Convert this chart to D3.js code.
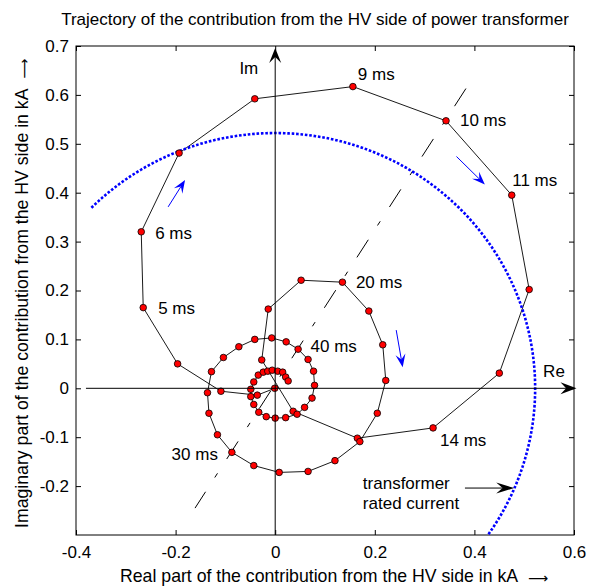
<!DOCTYPE html>
<html><head><meta charset="utf-8">
<script src="https://cdn.jsdelivr.net/npm/d3@7"></script>
<style>
html,body{margin:0;padding:0;background:#fff;}
text{font-family:"Liberation Sans",Arial,Helvetica,sans-serif;fill:#000;}
</style></head>
<body><svg id="c" width="593" height="588"></svg>
<script>
// ---------- data ----------
// trajectory samples, 1 ms ... 62 ms
const reVals = [-0.001,-0.036,-0.109,-0.196,-0.265,-0.269,-0.193,-0.041,0.156,0.343,
  0.475,0.510,0.450,0.317,0.165,0.036,-0.027,-0.014,0.052,0.135,
  0.188,0.216,0.222,0.205,0.170,0.120,0.066,0.008,-0.043,-0.087,
  -0.116,-0.133,-0.136,-0.128,-0.104,-0.073,-0.041,-0.007,0.022,0.046,
  0.066,0.077,0.079,0.074,0.059,0.044,0.021,0.000,-0.018,-0.033,
  -0.043,-0.049,-0.049,-0.043,-0.034,-0.024,-0.015,-0.006,0.005,0.015,
  0.021,0.026];
const imVals = [0.000,-0.014,-0.006,0.050,0.165,0.320,0.481,0.592,0.617,0.547,
  0.395,0.202,0.031,-0.081,-0.102,-0.047,0.058,0.162,0.221,0.217,
  0.158,0.089,0.016,-0.051,-0.109,-0.148,-0.170,-0.172,-0.158,-0.131,
  -0.095,-0.051,-0.009,0.034,0.063,0.085,0.100,0.103,0.095,0.080,
  0.059,0.035,0.006,-0.020,-0.039,-0.053,-0.060,-0.061,-0.058,-0.049,
  -0.033,-0.017,-0.002,0.013,0.027,0.033,0.035,0.037,0.035,0.033,
  0.023,0.015];
const ratedCurrent = 0.522;               // radius of the rated-current circle
const ratedArcDeg = [135, -40];           // visible arc (clipped by axes)
const xTicks = [-0.4,-0.2,0,0.2,0.4,0.6];
const yTicks = [-0.2,-0.1,0,0.1,0.2,0.3,0.4,0.5,0.6,0.7];
const xDomain = [-0.4,0.6];
const yDomain = [-0.3,0.7];
const timeLabels = ["5 ms","6 ms","9 ms","10 ms","11 ms","14 ms","20 ms","30 ms","40 ms"];
const timeLabelRe = [-0.235,-0.241,0.166,0.371,0.476,0.331,0.162,-0.208,0.071];
const timeLabelIm = [0.152,0.306,0.631,0.537,0.414,-0.118,0.205,-0.146,0.074];
const phaseLine = [[-0.161,-0.245],[0.383,0.613]];   // dash-dot direction line
const blueArrows = [[[-0.215,0.371],[-0.181,0.426]],
                    [[0.364,0.474],[0.421,0.417]],
                    [[0.243,0.119],[0.256,0.043]]];
const ratedArrow = [[0.381,-0.204],[0.480,-0.204]];
const ratedText = ["transformer","rated current"];
const ratedTextPos = [[0.176,-0.206],[0.176,-0.247]];
const reAxis = [[-0.38,0],[0.605,0]];
const imAxis = [[0,-0.3],[0,0.696]];

// ---------- layout ----------
const L=76,R=574,T=46,B=535;
const svg=d3.select("#c");
const x=d3.scaleLinear(xDomain,[L,R]);
const y=d3.scaleLinear(yDomain,[B,T]);
const FS=17;

svg.append("defs").append("clipPath").attr("id","clip")
  .append("rect").attr("x",L).attr("y",T).attr("width",R-L).attr("height",B-T);

// title
svg.append("text").attr("x",315).attr("y",25).attr("text-anchor","middle")
  .style("font-size",FS+"px").text("Trajectory of the contribution from the HV side of power transformer");

// axes with inward ticks on all sides
const fmt=d=>d===0?"0":String(d);
const gB=svg.append("g").attr("transform",`translate(0,${B})`)
  .call(d3.axisBottom(x).tickValues(xTicks).tickFormat(fmt).tickSizeInner(-5).tickSizeOuter(0).tickPadding(11));
const gT=svg.append("g").attr("transform",`translate(0,${T})`)
  .call(d3.axisTop(x).tickValues(xTicks).tickFormat("").tickSizeInner(-5).tickSizeOuter(0));
const gL=svg.append("g").attr("transform",`translate(${L},0)`)
  .call(d3.axisLeft(y).tickValues(yTicks).tickFormat(fmt).tickSizeInner(-5).tickSizeOuter(0).tickPadding(7));
const gR=svg.append("g").attr("transform",`translate(${R},0)`)
  .call(d3.axisRight(y).tickValues(yTicks).tickFormat("").tickSizeInner(-5).tickSizeOuter(0));
[gB,gT,gL,gR].forEach(g=>{
  g.select(".domain").remove();
  g.selectAll("line").attr("stroke","#000");
  g.selectAll("text").style("font-size",FS+"px").attr("font-family",null);
});
svg.append("rect").attr("x",L).attr("y",T).attr("width",R-L).attr("height",B-T)
  .attr("fill","none").attr("stroke","#000").attr("stroke-width",1);

// axis labels (text + long thin arrow)
function axisLabel(sel,txt){
  sel.style("font-size","17.7px");
  sel.append("tspan").text(txt+"\u00a0\u00a0");
  sel.append("tspan").attr("dy",1).style("font-family","'DejaVu Sans'").style("font-size","14px").text("\u27F6");
}
axisLabel(svg.append("text").attr("x",120).attr("y",582),
  "Real part of the contribution from the HV side in kA");
axisLabel(svg.append("text").attr("transform","translate(28,528) rotate(-90)"),
  "Imaginary part of the contribution from the HV side in kA");

const plot=svg.append("g").attr("clip-path","url(#clip)");

// arrow head helper
function head(g,from,to,Lh,W,notch,color){
  const x1=x(from[0]),y1=y(from[1]),x2=x(to[0]),y2=y(to[1]);
  const a=Math.atan2(y2-y1,x2-x1),c=Math.cos(a),s=Math.sin(a);
  const P=(u,v)=>[x2+u*c-v*s,y2+u*s+v*c];
  const pts=[P(0,0),P(-Lh,W/2),P(-Lh*notch,0),P(-Lh,-W/2)];
  g.append("path").attr("d","M"+pts.map(p=>p.join(",")).join("L")+"Z").attr("fill",color).attr("stroke","none");
  return P(-Lh*notch,0);
}
function arrow(g,from,to,Lh,W,notch,color,width){
  const end=head(g,from,to,Lh,W,notch,color);
  g.append("line").attr("x1",x(from[0])).attr("y1",y(from[1])).attr("x2",end[0]).attr("y2",end[1])
    .attr("stroke",color).attr("stroke-width",width);
}

// Re / Im axes
const axG=svg.append("g");
arrow(axG,imAxis[0],imAxis[1],15,12,0.6,"#000",1);
arrow(axG,reAxis[0],reAxis[1],16,12,0.65,"#000",1);
svg.append("text").attr("x",x(-0.034)).attr("y",y(0.643)).attr("text-anchor","end").style("font-size",FS+"px").text("Im");
svg.append("text").attr("x",x(0.538)).attr("y",y(0.024)).style("font-size",FS+"px").text("Re");

// dash-dot phase line
plot.append("line").attr("x1",x(phaseLine[1][0])).attr("y1",y(phaseLine[1][1]))
  .attr("x2",x(phaseLine[0][0])).attr("y2",y(phaseLine[0][1]))
  .attr("stroke","#000").attr("stroke-width",1).attr("stroke-dasharray","21,17,5,17");

// trajectory
const pts=reVals.map((r,i)=>[r,imVals[i]]);
plot.append("path").datum(pts).attr("fill","none").attr("stroke","#000").attr("stroke-width",0.9)
  .attr("d",d3.line().x(d=>x(d[0])).y(d=>y(d[1])));

// rated current circle (dotted)
const arcPts=d3.range(ratedArcDeg[0],ratedArcDeg[1]-0.5,-1).map(a=>[ratedCurrent*Math.cos(a*Math.PI/180),ratedCurrent*Math.sin(a*Math.PI/180)]);
plot.append("path").datum(arcPts).attr("fill","none").attr("stroke","#0000ff").attr("stroke-width",2.6)
  .attr("stroke-dasharray","2.6,1.8").attr("d",d3.line().x(d=>x(d[0])).y(d=>y(d[1])));

// markers
plot.selectAll("circle.m").data(pts).join("circle").attr("class","m")
  .attr("cx",d=>x(d[0])).attr("cy",d=>y(d[1])).attr("r",3.3)
  .attr("fill","#ff0000").attr("stroke","#000").attr("stroke-width",0.8);

// blue direction arrows
blueArrows.forEach(a=>arrow(svg,a[0],a[1],13,10,0.6,"#0000ff",1));

// time labels
svg.selectAll("text.tl").data(timeLabels).join("text").attr("class","tl")
  .attr("x",(d,i)=>x(timeLabelRe[i])).attr("y",(d,i)=>y(timeLabelIm[i]))
  .style("font-size",FS+"px").text(d=>d);

// rated current annotation
ratedText.forEach((t,i)=>svg.append("text").attr("x",x(ratedTextPos[i][0])).attr("y",y(ratedTextPos[i][1]))
  .style("font-size",FS+"px").text(t));
arrow(svg,ratedArrow[0],ratedArrow[1],18,11,0.65,"#000",1);
</script></body></html>
